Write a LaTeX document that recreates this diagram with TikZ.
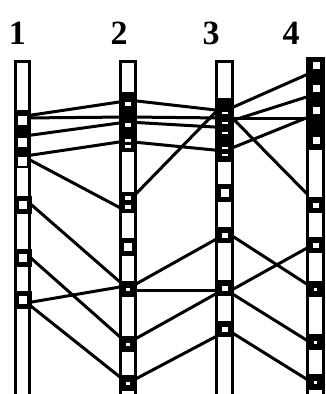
\documentclass[tikz,border=0pt]{standalone}
\usepackage{fontspec}
\setmainfont{Liberation Serif}
\begin{document}
\begin{tikzpicture}[x=1pt,y=-1pt,
  edge/.style={line width=3pt,line cap=round},
  bar/.style={draw,fill=white,line width=2.8pt},
  sqA/.style={draw,fill=white,line width=5pt,minimum width=13pt,minimum height=13pt,inner sep=0pt},
  sqB/.style={draw,fill=white,line width=5.5pt,minimum width=11.5pt,minimum height=10.5pt,inner sep=0pt},
  sqC/.style={draw,fill=white,line width=6.5pt,minimum width=10pt,minimum height=9.5pt,inner sep=0pt},
  hole/.style={fill=white},
  lab/.style={font=\bfseries\fontsize{34}{34}\selectfont,anchor=base,inner sep=0pt}]
\useasboundingbox (0,0) rectangle (326,394);
\clip (0,0) rectangle (326,394);
% labels
\node[lab] (l1) at (17.5,44) {1};
\node[lab] (l2) at (119,44) {2};
\node[lab] (l3) at (211,44) {3};
\node[lab] (l4) at (291,44) {4};
% edges 1-2
\draw[edge] (22.5,116.4) -- (128,100.7);
\draw[edge] (22.5,118) -- (128,117);
\draw[edge] (22.5,136.3) -- (128,121.8);
\draw[edge] (22.5,156.4) -- (128,140.7);
\draw[edge] (22.5,156) -- (128,212);
\draw[edge] (22.5,197) -- (128,289);
\draw[edge] (22.5,250.6) -- (128,344);
\draw[edge] (22.5,303.6) -- (128,285.6);
\draw[edge] (22.5,299.4) -- (128,383.4);
% edges 2-3
\draw[edge] (128,100) -- (224.5,111);
\draw[edge] (128,117) -- (224.5,118);
\draw[edge] (128,122) -- (224.5,127.6);
\draw[edge] (128,141.5) -- (224.5,151);
\draw[edge] (128,202) -- (224.5,103);
\draw[edge] (128,288.5) -- (224.5,234.5);
\draw[edge] (128,290) -- (224.5,290);
\draw[edge] (128,343) -- (224.5,289);
\draw[edge] (128,383) -- (224.5,332);
% edges 3-4
\draw[edge] (224.5,111) -- (316,70.5);
\draw[edge] (224.5,123) -- (316,94);
\draw[edge] (224.5,118) -- (316,118);
\draw[edge] (224.5,151) -- (316,114);
\draw[edge] (224.5,110) -- (316,203);
\draw[edge] (224.5,231) -- (316,290);
\draw[edge] (224.5,294) -- (316,243);
\draw[edge] (224.5,289) -- (316,346);
\draw[edge] (224.5,328) -- (316,385);
% bars
\path[bar] (15.4,61.4) rectangle (29.6,400);
\path[bar] (120.4,61.4) rectangle (135.6,400);
\path[bar] (216.4,61.4) rectangle (232.6,400);
\path[bar] (307.4,58.4) rectangle (323.6,400);
% column 1
\fill (14,110) rectangle (31,168);
\foreach \y in {120,142,161.5} \fill[hole] (18,\y-4.5) rectangle (27,\y+4.5);
\node[sqA] (a4) at (22.5,205) {};
\node[sqA] (a5) at (22.5,258) {};
\node[sqA] (a6) at (22.5,300) {};
% column 2
\fill (119,92) rectangle (137,152);
\foreach \y in {104,125} \fill[hole] (125,\y-2) rectangle (131,\y+2);
\foreach \y in {140,146} \fill[hole] (125,\y-1.5) rectangle (131,\y+1.5);
\fill (119,192) rectangle (137,213);
\foreach \y in {198,207} \fill[hole] (125,\y-1.8) rectangle (131,\y+1.8);
\node[sqA] (b5) at (128,247) {};
\node[sqC] (b6) at (128,289) {};
\node[sqC] (b7) at (128,344) {};
\node[sqC] (b8) at (128,383) {};
% column 3
\fill (215,98) rectangle (234,162);
\foreach \y in {113,123,133,148,155} \fill[hole] (221.5,\y-1.3) rectangle (227.5,\y+1.3);
\node[sqA] (c6) at (224.5,193) {};
\node[sqB] (c7) at (224.5,235) {};
\node[sqB] (c8) at (224.5,288) {};
\node[sqB] (c9) at (224.5,329) {};
% column 4
\fill (306,57) rectangle (325,150);
\foreach \y in {65,88,110,140} \fill[hole] (312.5,\y-3.5) rectangle (319.5,\y+3.5);
\node[sqB] (d5) at (315.5,205) {};
\node[sqB] (d6) at (315.5,245) {};
\node[sqC] (d7) at (315.5,289) {};
\node[sqC] (d8) at (315.5,342) {};
\node[sqC] (d9) at (315.5,382) {};
\end{tikzpicture}
\end{document}
